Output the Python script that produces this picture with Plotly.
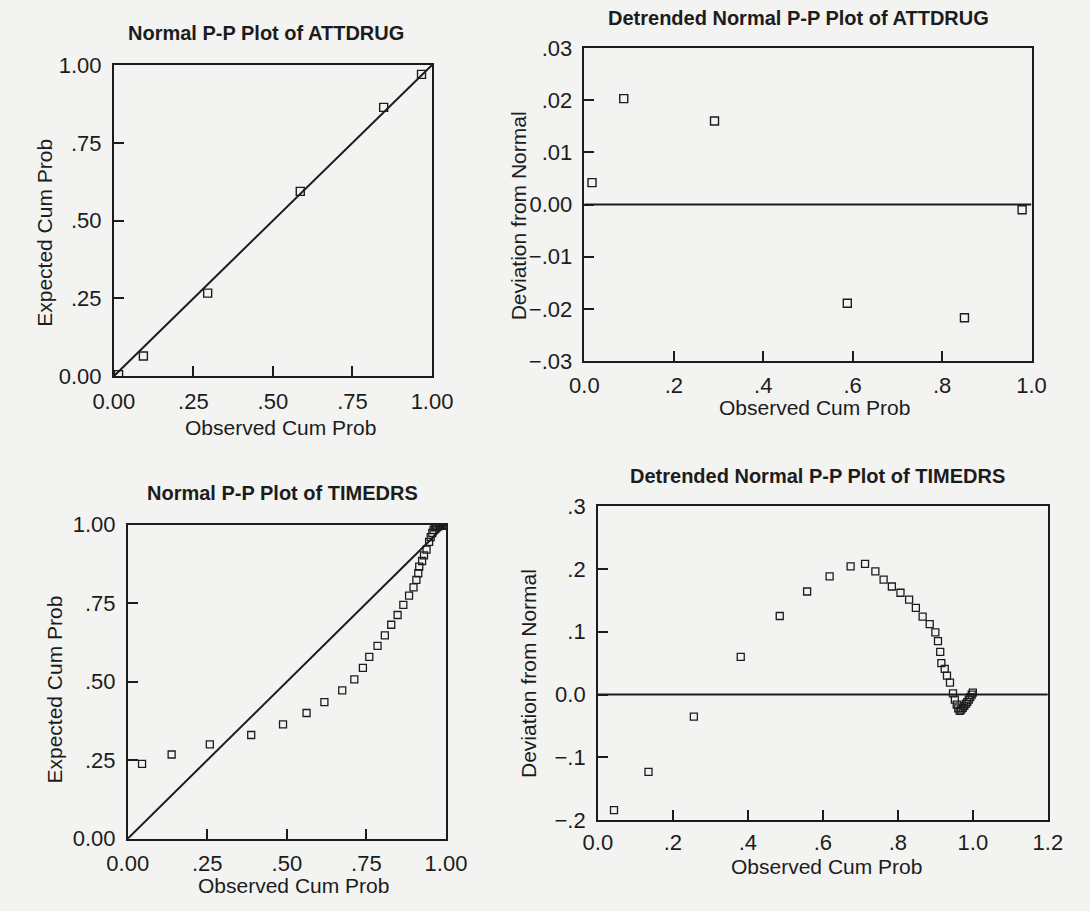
import plotly.graph_objects as go

# ---------------- data ----------------
attdrug_pp_obs = [0.015, 0.093, 0.295, 0.586, 0.848, 0.967]
attdrug_pp_exp = [0.005, 0.065, 0.267, 0.594, 0.864, 0.970]

attdrug_dt_obs = [0.017, 0.088, 0.291, 0.588, 0.850, 0.979]
attdrug_dt_dev = [0.0042, 0.0203, 0.0160, -0.0189, -0.0217, -0.0010]

timedrs_pp_obs = [0.045, 0.138, 0.258, 0.388, 0.488, 0.562, 0.618, 0.674, 0.712,
                  0.739, 0.759, 0.785, 0.808, 0.828, 0.848, 0.866, 0.884, 0.898,
                  0.907, 0.913, 0.916, 0.925, 0.931, 0.939, 0.947, 0.952, 0.957,
                  0.961, 0.965, 0.969, 0.973, 0.977, 0.981, 0.985, 0.989, 0.993,
                  0.997, 1.000]
timedrs_pp_exp = [0.238, 0.268, 0.300, 0.330, 0.364, 0.400, 0.435, 0.472, 0.507,
                  0.544, 0.579, 0.614, 0.647, 0.681, 0.712, 0.744, 0.774, 0.800,
                  0.824, 0.845, 0.866, 0.884, 0.902, 0.920, 0.945, 0.960, 0.973,
                  0.983, 0.991, 0.993, 0.994, 0.995, 0.996, 0.997, 0.997, 0.997,
                  0.997, 0.997]

timedrs_dt_obs = [0.043, 0.135, 0.256, 0.381, 0.485, 0.558, 0.618, 0.674, 0.7125,
                  0.740, 0.762, 0.784, 0.807, 0.830, 0.848, 0.866, 0.885, 0.900,
                  0.907, 0.913, 0.916, 0.925, 0.931, 0.939, 0.947, 0.952, 0.957,
                  0.961, 0.965, 0.969, 0.973, 0.977, 0.981, 0.985, 0.989, 0.993,
                  0.997, 1.000]
timedrs_dt_dev = [-0.184, -0.123, -0.035, 0.060, 0.125, 0.164, 0.188, 0.204, 0.208,
                  0.196, 0.183, 0.172, 0.162, 0.151, 0.138, 0.124, 0.112, 0.099,
                  0.085, 0.068, 0.050, 0.041, 0.030, 0.019, 0.002, -0.008, -0.016,
                  -0.022, -0.026, -0.024, -0.021, -0.018, -0.015, -0.012, -0.008,
                  -0.004, 0.000, 0.003]

pp_ticks = [0, 0.25, 0.5, 0.75, 1.0]
pp_ticktext = ["0.00", ".25", ".50", ".75", "1.00"]
dt1_xticks = [0, 0.2, 0.4, 0.6, 0.8, 1.0]
dt1_xtext = ["0.0", ".2", ".4", ".6", ".8", "1.0"]
dt1_yticks = [-0.03, -0.02, -0.01, 0.0, 0.01, 0.02, 0.03]
dt1_ytext = ["\u2212.03", "\u2212.02", "\u2212.01", "0.00", ".01", ".02", ".03"]
dt2_xticks = [0, 0.2, 0.4, 0.6, 0.8, 1.0, 1.2]
dt2_xtext = ["0.0", ".2", ".4", ".6", ".8", "1.0", "1.2"]
dt2_yticks = [-0.2, -0.1, 0.0, 0.1, 0.2, 0.3]
dt2_ytext = ["\u2212.2", "\u2212.1", "0.0", ".1", ".2", ".3"]

pp_range = [0, 1]
dt1_xrange = [0, 1]
dt1_yrange = [-0.03, 0.03]
dt2_xrange = [0, 1.2]
dt2_yrange = [-0.2, 0.3]

# ---------------- layout helpers ----------------
W, H = 1090, 911
INK = "#1c1c1c"
BG = "#f3f3f1"
FONT = "Liberation Sans, Arial, sans-serif"


def xd(a, b):
    return [a / W, b / W]


def yd(top, bottom):
    return [1 - bottom / H, 1 - top / H]


def axis(domain, rng, tickvals, ticktext, anchor, standoff):
    return dict(domain=domain, range=rng, tickvals=tickvals, ticktext=ticktext,
                anchor=anchor, showline=True, mirror=True, linecolor=INK,
                linewidth=1.6, ticks="inside", ticklen=10, tickwidth=1.6,
                tickcolor=INK, showgrid=False, zeroline=False,
                tickfont=dict(family=FONT, size=22, color=INK),
                ticklabelstandoff=standoff, fixedrange=True)


fig = go.Figure()

marker_big = dict(symbol="square-open", size=8, color=INK, line=dict(width=1.4, color=INK))
marker_small = dict(symbol="square-open", size=7, color=INK, line=dict(width=1.3, color=INK))
line_style = dict(color=INK, width=2)

# top-left: P-P ATTDRUG
fig.add_trace(go.Scatter(x=pp_range, y=pp_range, mode="lines", line=line_style,
                         xaxis="x", yaxis="y", hoverinfo="skip"))
fig.add_trace(go.Scatter(x=attdrug_pp_obs, y=attdrug_pp_exp, mode="markers",
                         marker=marker_big, xaxis="x", yaxis="y"))
# top-right: detrended ATTDRUG
fig.add_trace(go.Scatter(x=dt1_xrange, y=[0, 0], mode="lines", line=line_style,
                         xaxis="x2", yaxis="y2", hoverinfo="skip"))
fig.add_trace(go.Scatter(x=attdrug_dt_obs, y=attdrug_dt_dev, mode="markers",
                         marker=marker_big, xaxis="x2", yaxis="y2"))
# bottom-left: P-P TIMEDRS
fig.add_trace(go.Scatter(x=pp_range, y=pp_range, mode="lines", line=line_style,
                         xaxis="x3", yaxis="y3", hoverinfo="skip"))
fig.add_trace(go.Scatter(x=timedrs_pp_obs, y=timedrs_pp_exp, mode="markers",
                         marker=marker_small, xaxis="x3", yaxis="y3"))
# bottom-right: detrended TIMEDRS
fig.add_trace(go.Scatter(x=dt2_xrange, y=[0, 0], mode="lines", line=line_style,
                         xaxis="x4", yaxis="y4", hoverinfo="skip"))
fig.add_trace(go.Scatter(x=timedrs_dt_obs, y=timedrs_dt_dev, mode="markers",
                         marker=marker_small, xaxis="x4", yaxis="y4"))

fig.update_layout(
    width=W, height=H, margin=dict(l=0, r=0, t=0, b=0),
    paper_bgcolor=BG, plot_bgcolor=BG, showlegend=False,
    font=dict(family=FONT, color=INK),
    xaxis=axis(xd(96.5, 427.5), pp_range, pp_ticks, pp_ticktext, "y", 5),
    yaxis=axis(yd(54.5, 374.5), pp_range, pp_ticks, pp_ticktext, "x", 6),
    xaxis2=axis(xd(586, 1051), dt1_xrange, dt1_xticks, dt1_xtext, "y2", 4),
    yaxis2=axis(yd(37, 359), dt1_yrange, dt1_yticks, dt1_ytext, "x2", 6),
    xaxis3=axis(xd(111, 442), pp_range, pp_ticks, pp_ticktext, "y3", 4),
    yaxis3=axis(yd(527, 850), pp_range, pp_ticks, pp_ticktext, "x3", 6),
    xaxis4=axis(xd(600, 1068), dt2_xrange, dt2_xticks, dt2_xtext, "y4", 2),
    yaxis4=axis(yd(508, 831), dt2_yrange, dt2_yticks, dt2_ytext, "x4", 6),
)


def label(text, cx, cy, size=21, bold=False, angle=0):
    fig.add_annotation(text=f"<b>{text}</b>" if bold else text,
                       x=cx / W, y=1 - cy / H, xref="paper", yref="paper",
                       xanchor="center", yanchor="middle", showarrow=False,
                       textangle=angle, font=dict(family=FONT, size=size, color=INK))


label("Normal P-P Plot of ATTDRUG", 255, 22, size=20, bold=True)
label("Observed Cum Prob", 270, 427)
label("Expected Cum Prob", 25, 227, angle=-90)

label("Detrended Normal P-P Plot of ATTDRUG", 809, 6, size=20, bold=True)
label("Observed Cum Prob", 825, 407)
label("Deviation from Normal", 517, 210, angle=-90)

label("Normal P-P Plot of TIMEDRS", 272, 495, size=20, bold=True)
label("Observed Cum Prob", 283, 898)
label("Expected Cum Prob", 35, 697, angle=-90)

label("Detrended Normal P-P Plot of TIMEDRS", 828, 477, size=20, bold=True)
label("Observed Cum Prob", 838, 879)
label("Deviation from Normal", 528, 680, angle=-90)

fig.write_html("out.html")
